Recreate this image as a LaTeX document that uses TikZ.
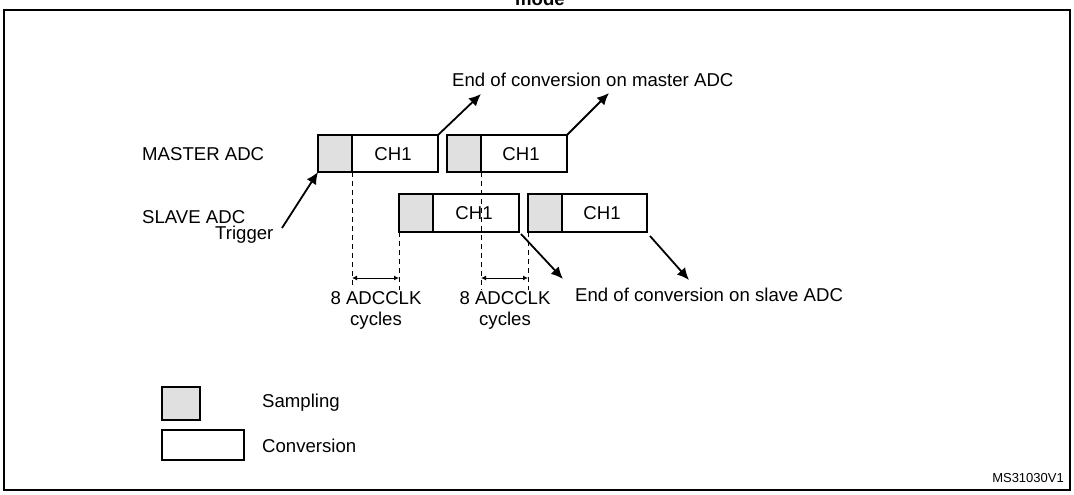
\documentclass[tikz,border=0pt]{standalone}
\usepackage{fontspec}
\setmainfont{Liberation Sans}
\usetikzlibrary{arrows.meta}
\begin{document}
\begin{tikzpicture}[x=1pt,y=-1pt,
  samp/.style={draw,line width=1.6pt,fill=black!12},
  conv/.style={draw,line width=1.6pt,fill=white},
  lbl/.style={font=\fontsize{18.6}{21}\selectfont,inner sep=0pt},
  big/.style={line width=1.8pt,-{Latex[length=12pt,width=11pt]}},
  dim/.style={line width=1pt,{Latex[length=5pt,width=5pt]}-{Latex[length=5pt,width=5pt]}},
  dsh/.style={line width=1pt,dash pattern=on 5pt off 4pt}]
\useasboundingbox (0,0) rectangle (1074,495);
\draw[line width=1.2pt] (4,10) -- (1070,10) -- (1070,490) -- (4,490) -- cycle;
\node[lbl,font=\bfseries\fontsize{18.6}{21}\selectfont] (title) at (540,-1) {mode};
% master
\draw[conv] (318,135) rectangle (438,172); \draw[samp] (318,135) rectangle (352,172);
\node[lbl] (m1) at (393,154) {CH1};
\draw[conv] (447,135) rectangle (567,172); \draw[samp] (447,135) rectangle (481,172);
\node[lbl] (m2) at (521,154) {CH1};
% slave
\draw[conv] (399,194) rectangle (519,232); \draw[samp] (399,194) rectangle (433,232);
\node[lbl] (s1) at (474,213) {CH1};
\draw[conv] (528,194) rectangle (647,232); \draw[samp] (528,194) rectangle (562,232);
\node[lbl] (s2) at (602,213) {CH1};
% dashed
\draw[dsh] (352,172) -- (352,285);
\draw[dsh] (399,232) -- (399,290);
\draw[dsh] (481,172) -- (481,290);
\draw[dsh] (528,232) -- (528,290);
\coordinate (d1a) at (352,278); \coordinate (d1b) at (399,278);
\coordinate (d2a) at (481,278); \coordinate (d2b) at (528,278);
\draw[dim] (d1a) -- (d1b);
\draw[dim] (d2a) -- (d2b);
\node[lbl,align=center] (c1) at (376,310) {8 ADCCLK\\cycles};
\node[lbl,align=center] (c2) at (505,310) {8 ADCCLK\\cycles};
% labels
\node[lbl,anchor=west] (mast) at (142,154) {MASTER ADC};
\node[lbl,anchor=west] (slav) at (142,217) {SLAVE ADC};
\node[lbl,anchor=west] (trig) at (215,235) {Trigger};
\node[lbl,anchor=west] (em) at (452,80) {End of conversion on master ADC};
\node[lbl,anchor=west] (es) at (575,295) {End of conversion on slave ADC};
% arrows
\coordinate (a0) at (282,228); \coordinate (a0e) at (318,172);
\draw[big] (a0) -- (a0e);
\coordinate (a1) at (438,135); \coordinate (a1e) at (481,94);
\draw[big] (a1) -- (a1e);
\coordinate (a2) at (567,135); \coordinate (a2e) at (609,93);
\draw[big] (a2) -- (a2e);
\coordinate (a3) at (521,234); \coordinate (a3e) at (563,279);
\draw[big] (a3) -- (a3e);
\coordinate (a4) at (650,236); \coordinate (a4e) at (689,280);
\draw[big] (a4) -- (a4e);
% legend
\draw[samp] (162,387) rectangle (200,420);
\draw[conv] (162,430) rectangle (244,460);
\node[lbl,anchor=west] (ls) at (262,403) {Sampling};
\node[lbl,anchor=west] (lc) at (262,446) {Conversion};
\node[lbl,anchor=east,font=\fontsize{13}{15}\selectfont] (id) at (1064,478) {MS31030V1};
\end{tikzpicture}
\end{document}
